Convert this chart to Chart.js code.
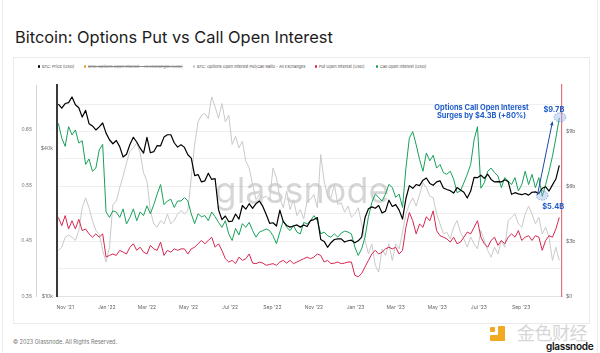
<!DOCTYPE html>
<html>
<head>
<meta charset="utf-8">
<title>Bitcoin: Options Put vs Call Open Interest</title>
<script src="https://cdn.jsdelivr.net/npm/chart.js@4.4.0/dist/chart.umd.min.js"></script>
<style>
  html, body { margin: 0; padding: 0; background: #fff; }
  body { position: relative; width: 600px; height: 353px; overflow: hidden; font-family: Inter, "Open Sans", sans-serif; }
  .edge { position: absolute; top: 0; width: 1px; height: 353px; background: #ececec; }
  h1 { position: absolute; left: 15px; top: 29px; margin: 0; font-size: 16.4px; line-height: 17px; font-weight: 400; color: #1c1c1c; white-space: nowrap; }
  .panel { position: absolute; left: 13px; top: 57px; width: 577px; height: 267px; border: 1px solid #ebebeb; box-sizing: border-box; }
  .legend-item { position: absolute; top: 64px; font-size: 4px; line-height: 5px; color: #4a4a4a; white-space: nowrap; }
  .legend-item i { position: absolute; left: -4.5px; top: 1.2px; width: 2.6px; height: 2.6px; border-radius: 50%; }
  .legend-item.off { text-decoration: line-through; color: #888; }
  #wrap { position: absolute; left: 14px; top: 78px; width: 575px; height: 240px; }
  .footer { position: absolute; left: 13px; top: 339px; font-size: 5.5px; line-height: 6px; color: #777; }
  .jinse { position: absolute; left: 517px; top: 322px; font-family: "Noto Sans CJK SC", sans-serif; font-size: 18px; line-height: 20px; color: rgba(200,200,200,0.75); letter-spacing: -0.5px; }
  .ylw { position: absolute; background: #f2a922; }
  .gn { position: absolute; left: 546px; top: 341px; font-size: 10px; line-height: 11px; font-weight: 600; color: #111; letter-spacing: -0.3px; }
</style>
</head>
<body>
<div class="edge" style="left:2px"></div>
<div class="edge" style="left:597px"></div>
<h1>Bitcoin: Options Put vs Call Open Interest</h1>
<div class="panel"></div>
<div id="legend"></div>
<div id="wrap"><canvas id="chart" width="575" height="240"></canvas></div>
<div class="footer">© 2023 Glassnode. All Rights Reserved.</div>
<div class="ylw" style="left:490px;top:327px;width:5px;height:5px;border-radius:1px"></div>
<div class="ylw" style="left:498px;top:326px;width:7px;height:15px;border-radius:1px"></div>
<div class="ylw" style="left:490px;top:335px;width:15px;height:6px;border-radius:1px"></div>
<div class="jinse">金色财经</div>
<div class="gn">glassnode</div>

<script>
/* ---------------- DATA ---------------- */

// samples every 5 days, first one on 2021-10-22
const firstDate = "2021-10-22";
const stepDays = 5;

// BTC price, thousands of USD
const btcPrice = [
  60.7, 58.4, 61.0, 61.5, 64.9, 60.3, 58.6, 53.7, 57.2, 50.5,
  49.4, 47.6, 49.0, 50.8, 46.2, 43.4, 41.8, 43.1, 40.7, 36.9,
  37.9, 41.5, 44.4, 42.5, 40.1, 38.3, 44.4, 38.4, 38.8, 41.1,
  41.0, 44.5, 45.5, 45.5, 42.2, 40.5, 41.4, 40.4, 37.7, 36.5,
  31.0, 31.3, 29.2, 29.5, 31.7, 29.9, 30.1, 22.5, 20.5, 21.2,
  20.1, 20.2, 21.6, 20.6, 23.4, 22.6, 23.8, 22.8, 23.8, 24.4,
  23.2, 21.5, 19.8, 19.9, 19.3, 22.4, 20.1, 19.4, 19.1, 19.3,
  19.5, 19.1, 19.5, 19.2, 20.3, 20.5, 20.9, 17.0, 16.7, 15.8,
  16.5, 17.0, 17.1, 17.1, 16.6, 16.8, 16.9, 16.5, 16.8, 17.4,
  20.9, 22.7, 23.1, 22.8, 23.4, 21.8, 22.2, 24.6, 23.2, 23.6,
  22.4, 20.6, 25.0, 28.2, 27.5, 28.5, 28.2, 29.7, 30.3, 28.8,
  28.3, 29.2, 29.5, 27.6, 27.2, 26.9, 26.3, 27.7, 27.1, 26.5,
  25.1, 26.8, 30.5, 30.4, 31.1, 30.2, 31.4, 29.9, 29.2, 29.3,
  29.2, 29.8, 29.3, 26.0, 26.4, 26.1, 25.9, 26.2, 25.8, 26.5,
  26.6, 26.2, 27.5, 27.9, 26.8, 28.4, 30.0, 34.1
];

// put / call ratio
const putCallRatio = [
  0.432, 0.438, 0.456, 0.460, 0.456, 0.450, 0.468, 0.509, 0.527, 0.509,
  0.486, 0.468, 0.462, 0.432, 0.411, 0.438, 0.515, 0.521, 0.545, 0.566,
  0.590, 0.611, 0.617, 0.626, 0.608, 0.572, 0.557, 0.504, 0.480, 0.474,
  0.486, 0.480, 0.498, 0.480, 0.486, 0.498, 0.504, 0.498, 0.504, 0.563,
  0.623, 0.664, 0.676, 0.679, 0.670, 0.709, 0.691, 0.670, 0.697, 0.664,
  0.676, 0.623, 0.638, 0.617, 0.629, 0.593, 0.581, 0.551, 0.524, 0.533,
  0.527, 0.530, 0.524, 0.581, 0.563, 0.527, 0.509, 0.539, 0.506, 0.524,
  0.495, 0.506, 0.489, 0.521, 0.524, 0.533, 0.509, 0.605, 0.557, 0.530,
  0.527, 0.551, 0.515, 0.518, 0.501, 0.512, 0.492, 0.498, 0.509, 0.480,
  0.450, 0.426, 0.444, 0.405, 0.393, 0.435, 0.423, 0.444, 0.414, 0.444,
  0.435, 0.465, 0.498, 0.515, 0.527, 0.512, 0.533, 0.554, 0.545, 0.530,
  0.527, 0.498, 0.480, 0.462, 0.465, 0.453, 0.474, 0.486, 0.465, 0.453,
  0.438, 0.456, 0.444, 0.435, 0.468, 0.450, 0.432, 0.420, 0.438, 0.426,
  0.450, 0.438, 0.486, 0.492, 0.498, 0.480, 0.474, 0.498, 0.512, 0.498,
  0.480, 0.492, 0.462, 0.474, 0.456, 0.414, 0.438, 0.414
];

// put open interest, billions of USD
const putOI = [
  4.30, 3.85, 4.40, 3.67, 4.12, 3.67, 4.20, 3.58, 3.67, 3.40,
  3.22, 3.40, 3.22, 3.40, 2.13, 2.22, 2.30, 2.22, 2.50, 2.40,
  2.30, 2.67, 2.86, 2.50, 2.67, 2.40, 2.30, 2.77, 2.58, 2.50,
  2.95, 2.22, 2.50, 2.40, 2.58, 2.50, 2.58, 2.58, 2.30, 2.58,
  2.67, 2.86, 3.04, 2.86, 3.04, 3.22, 2.67, 2.86, 2.50, 2.04,
  1.86, 1.95, 1.77, 2.13, 1.95, 2.04, 2.30, 1.80, 1.77, 1.86,
  1.80, 1.68, 1.73, 1.77, 1.68, 1.86, 1.95, 1.80, 1.95, 1.77,
  1.86, 1.95, 2.04, 2.13, 2.04, 2.13, 2.30, 2.22, 1.86, 1.95,
  1.77, 1.80, 1.86, 1.77, 1.80, 1.86, 1.86, 1.14, 1.05, 1.23,
  1.59, 1.95, 2.30, 2.50, 2.30, 2.40, 2.58, 2.67, 2.58, 2.67,
  2.30, 2.50, 3.76, 4.57, 4.12, 3.40, 3.94, 3.76, 4.34, 4.12,
  4.66, 3.58, 3.30, 3.22, 3.13, 2.95, 3.22, 2.86, 2.95, 3.22,
  3.50, 3.40, 3.76, 4.12, 3.22, 2.86, 2.67, 3.04, 3.22, 2.77,
  3.04, 2.86, 3.22, 3.40, 3.22, 3.58, 3.04, 3.22, 3.30, 3.04,
  3.30, 3.22, 2.50, 3.04, 3.30, 3.22, 3.67, 4.30
];

// call open interest, billions of USD
const callOI = [
  9.45, 8.64, 8.19, 9.27, 8.82, 9.09, 8.37, 8.50, 7.20, 7.50,
  6.83, 7.00, 8.00, 8.30, 4.60, 4.30, 4.66, 4.60, 4.30, 4.77,
  3.94, 4.30, 4.77, 4.12, 4.60, 4.40, 4.94, 4.50, 5.00, 5.58,
  6.10, 5.00, 5.20, 5.30, 4.85, 5.20, 5.20, 5.39, 5.20, 4.50,
  3.96, 4.50, 4.34, 4.40, 4.12, 4.60, 4.34, 4.03, 3.76, 4.12,
  3.40, 3.04, 3.70, 3.34, 3.96, 3.76, 4.03, 3.58, 3.22, 3.50,
  3.58, 3.67, 3.58, 3.30, 2.86, 3.50, 4.12, 3.76, 3.58, 3.85,
  3.50, 3.40, 4.03, 3.94, 4.12, 4.40, 4.12, 3.40, 3.50, 3.30,
  3.22, 3.40, 3.22, 3.44, 3.55, 3.50, 3.40, 2.68, 2.22, 2.58,
  3.22, 4.34, 5.12, 5.58, 5.40, 5.20, 5.58, 6.11, 5.94, 5.40,
  5.58, 4.85, 7.00, 8.64, 9.00, 8.28, 7.47, 6.83, 7.83, 7.40,
  7.70, 7.00, 7.20, 6.75, 6.66, 6.83, 6.40, 5.66, 5.75, 6.20,
  6.66, 7.20, 8.55, 9.27, 5.90, 6.20, 6.83, 7.00, 6.75, 6.57,
  5.93, 6.48, 6.30, 6.10, 6.48, 5.75, 6.10, 6.83, 6.10, 6.66,
  5.93, 6.48, 5.45, 6.10, 6.83, 7.65, 8.64, 9.75
];

// x axis
const xStart = "2021-10-20";
const xEnd = "2023-10-31";
const tickDates = [
  "2021-11-01", "2022-01-01", "2022-03-01", "2022-05-01", "2022-07-01", "2022-09-01",
  "2022-11-01", "2023-01-01", "2023-03-01", "2023-05-01", "2023-07-01", "2023-09-01"
];
const tickLabels = [
  "Nov '21", "Jan '22", "Mar '22", "May '22", "Jul '22", "Sep '22",
  "Nov '22", "Jan '23", "Mar '23", "May '23", "Jul '23", "Sep '23"
];

// y axes
const ratioTicks = [0.35, 0.45, 0.55, 0.65];
const priceTicks = [10, 40];
const oiTicks = [0, 1.5, 3, 4.5, 6, 7.5, 9, 10.5];
const oiTickLabels = ["$0", "", "$3b", "", "$6b", "", "$9b", ""];

// legend
const legendLabels = [
  "BTC: Price [USD]",
  "BTC: Options Open Interest – All Exchanges [USD]",
  "BTC: Options Open Interest Put/Call Ratio - All Exchanges",
  "Put Open Interest [USD]",
  "Call Open Interest [USD]"
];
const legendColors = ["#000000", "#f0a030", "#c8c8c8", "#d6264f", "#17a05a"];
const legendHidden = [false, true, false, false, false];
const legendLeft = [42, 88, 197, 319, 380];

// annotation
const noteLines = ["Options Call Open Interest", "Surges by $4.3B (+80%)"];
const noteAt = { date: "2023-07-05", oi: [10.32, 9.87] };
const fromLabel = { text: "$5.4B", date: "2023-10-18", oi: 4.88 };
const toLabel = { text: "$9.7B", date: "2023-10-19", oi: 10.2 };
const fromPoint = { date: "2023-10-02", oi: 5.5 };
const toPoint = { date: "2023-10-28", oi: 9.78 };
const arrowFrom = { date: "2023-09-25", oi: 5.53 };
const arrowTo = { date: "2023-10-17", oi: 9.54 };

/* ---------------- HELPERS ---------------- */

const DAY = 86400000;
const origin = Date.UTC(2021, 10, 1);
function dayOf(s) {
  const [y, m, d] = s.split("-").map(Number);
  return (Date.UTC(y, m - 1, d) - origin) / DAY;
}

const firstDay = dayOf(firstDate);
const days = btcPrice.map((_, i) => firstDay + i * stepDays);
const pts = arr => arr.map((v, i) => ({ x: days[i], y: v }));

/* ---------------- LEGEND ---------------- */

const legendEl = document.getElementById("legend");
legendLabels.forEach((t, i) => {
  const el = document.createElement("div");
  el.className = "legend-item" + (legendHidden[i] ? " off" : "");
  el.style.left = legendLeft[i] + "px";
  el.innerHTML = `<i style="background:${legendColors[i]}"></i>${t}`;
  legendEl.appendChild(el);
});

/* ---------------- PLUGIN ---------------- */

const extras = {
  id: "extras",
  beforeDatasetsDraw(chart) {
    const { ctx } = chart;
    ctx.save();
    ctx.font = "400 36px Inter, sans-serif";
    ctx.fillStyle = "rgba(0,0,0,0.16)";
    ctx.textAlign = "center";
    ctx.textBaseline = "alphabetic";
    ctx.fillText("glassnode", 288, 125);
    ctx.restore();
  },
  afterDatasetsDraw(chart) {
    const { ctx } = chart;
    const sx = chart.scales.x, sy = chart.scales.oi;
    const px = p => [sx.getPixelForValue(dayOf(p.date)), sy.getPixelForValue(p.oi)];

    ctx.save();
    // circles
    [fromPoint, toPoint].forEach(p => {
      const [x, y] = px(p);
      ctx.beginPath();
      ctx.ellipse(x, y, 5.8, 4.6, 0, 0, Math.PI * 2);
      ctx.fillStyle = "rgba(150,180,235,0.4)";
      ctx.fill();
      ctx.setLineDash([1.4, 1.2]);
      ctx.strokeStyle = "#5f8fe0";
      ctx.lineWidth = 0.8;
      ctx.stroke();
    });
    ctx.setLineDash([]);

    // arrow
    const [ax, ay] = px(arrowFrom);
    const [bx, by] = px(arrowTo);
    ctx.strokeStyle = "#1d48a8";
    ctx.fillStyle = "#1d48a8";
    ctx.lineWidth = 1;
    ctx.beginPath();
    ctx.moveTo(ax, ay);
    ctx.lineTo(bx, by);
    ctx.stroke();
    const ang = Math.atan2(by - ay, bx - ax);
    ctx.beginPath();
    ctx.moveTo(bx, by);
    ctx.lineTo(bx - 4 * Math.cos(ang - 0.45), by - 4 * Math.sin(ang - 0.45));
    ctx.lineTo(bx - 4 * Math.cos(ang + 0.45), by - 4 * Math.sin(ang + 0.45));
    ctx.closePath();
    ctx.fill();

    // texts
    ctx.fillStyle = "#1f5cc8";
    ctx.font = "700 7.4px Inter, sans-serif";
    ctx.textAlign = "center";
    ctx.textBaseline = "middle";
    noteLines.forEach((t, i) => {
      ctx.fillText(t, sx.getPixelForValue(dayOf(noteAt.date)), sy.getPixelForValue(noteAt.oi[i]));
    });
    [fromLabel, toLabel].forEach(l => {
      const [x, y] = px(l);
      ctx.fillText(l.text, x, y);
    });
    ctx.restore();
  }
};

/* ---------------- CHART ---------------- */

Chart.defaults.font.family = "Inter, sans-serif";
Chart.defaults.font.size = 5;
Chart.defaults.color = "#666";

const tickFont = { size: 5, family: "Inter, sans-serif" };

new Chart(document.getElementById("chart"), {
  type: "line",
  data: {
    datasets: [
      { label: legendLabels[0], data: pts(btcPrice), yAxisID: "price", borderColor: "#000", borderWidth: 1.2 },
      { label: legendLabels[4], data: pts(callOI), yAxisID: "oi", borderColor: "#17a05a", borderWidth: 1 },
      { label: legendLabels[3], data: pts(putOI), yAxisID: "oi", borderColor: "#d6264f", borderWidth: 1 },
      { label: legendLabels[2], data: pts(putCallRatio), yAxisID: "ratio", borderColor: "#c9c9c9", borderWidth: 1 }
    ]
  },
  options: {
    responsive: false,
    animation: false,
    events: [],
    parsing: false,
    elements: { point: { radius: 0 }, line: { tension: 0, borderJoinStyle: "round" } },
    layout: { padding: { top: 5, left: 0, right: 0, bottom: 0 } },
    plugins: { legend: { display: false }, tooltip: { enabled: false } },
    scales: {
      x: {
        type: "linear",
        min: dayOf(xStart),
        max: dayOf(xEnd),
        grid: { display: false, drawTicks: false },
        border: { display: true, color: "#e2e2e2" },
        afterBuildTicks: s => { s.ticks = tickDates.map(d => ({ value: dayOf(d) })); },
        ticks: { autoSkip: false, maxRotation: 0, padding: 8, font: tickFont, color: "#666",
                 callback: (v, i) => tickLabels[i] },
        afterFit: s => { s.height = 22; }
      },
      ratio: {
        position: "left",
        weight: 2,
        min: 0.35,
        max: 0.7304,
        grid: { display: false, drawTicks: false },
        border: { display: true, color: "#d4d4d4", width: 1 },
        afterBuildTicks: s => { s.ticks = ratioTicks.map(v => ({ value: v })); },
        ticks: { padding: 4, font: tickFont, color: "#777", callback: v => v.toFixed(2) },
        afterFit: s => { s.width = 22; }
      },
      price: {
        type: "logarithmic",
        position: "left",
        weight: 1,
        min: 10,
        max: 72.6,
        grid: { display: false, drawTicks: false },
        border: { display: true, color: "#3a3a3a", width: 2 },
        afterBuildTicks: s => { s.ticks = priceTicks.map(v => ({ value: v })); },
        ticks: { padding: 4, font: tickFont, color: "#666", callback: v => "$" + v + "k" },
        afterFit: s => { s.width = 21; }
      },
      oi: {
        position: "right",
        min: 0,
        max: 11.55,
        grid: { display: true, drawTicks: false, color: "#efefef", lineWidth: 1 },
        border: { display: true, color: "#e5717f", width: 1.2 },
        afterBuildTicks: s => { s.ticks = oiTicks.map(v => ({ value: v })); },
        ticks: { padding: 4, font: tickFont, color: "#666", callback: (v, i) => oiTickLabels[i] },
        afterFit: s => { s.width = 27; }
      }
    }
  },
  plugins: [extras]
});
</script>
</body>
</html>
